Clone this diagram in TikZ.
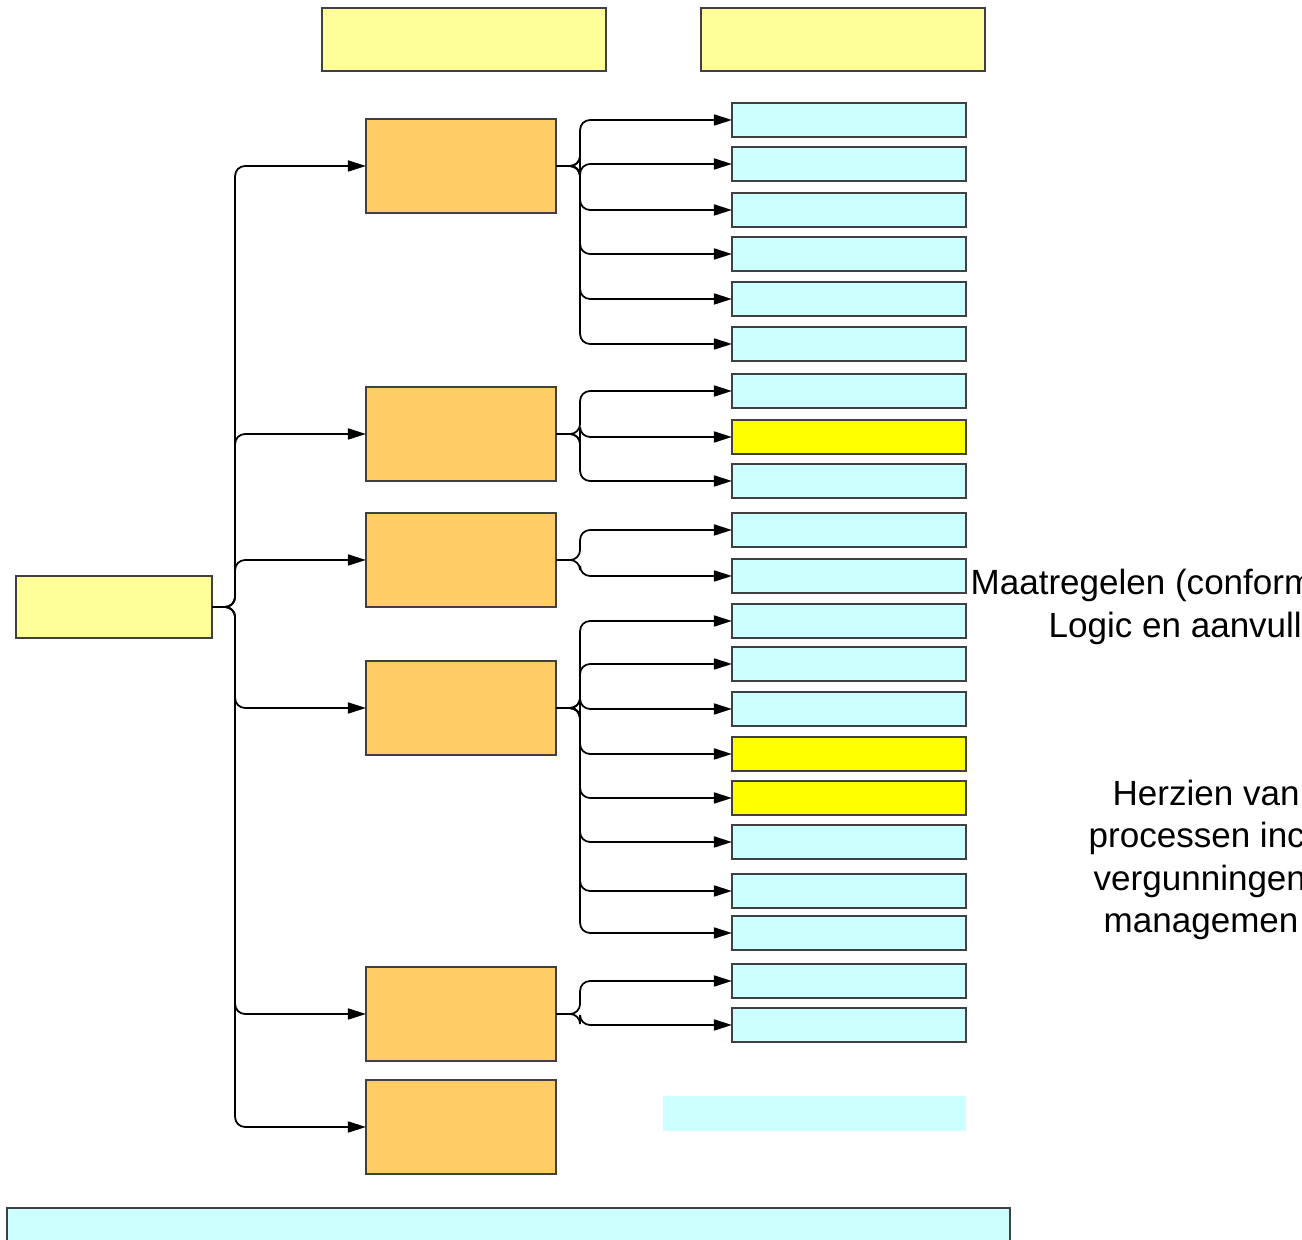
\documentclass[tikz,border=0pt]{standalone}
\usepackage{fontspec}
\setmainfont{Liberation Sans}
\usepackage{xcolor}
\usetikzlibrary{arrows.meta}

\definecolor{lichtgeel}{HTML}{FFFF99}
\definecolor{oranje}{HTML}{FFCC66}
\definecolor{lichtblauw}{HTML}{CCFFFF}
\definecolor{geel}{HTML}{FFFF00}

\begin{document}
\begin{tikzpicture}[x=0.01cm,y=-0.01cm,
	box/.style={draw=black!75, line width=0.5pt, inner sep=0pt, outer sep=0pt},
	kop/.style={box, fill=lichtgeel, minimum width=2.84cm, minimum height=0.63cm},
	hoofd/.style={box, fill=lichtgeel, minimum width=1.96cm, minimum height=0.62cm},
	fase/.style={box, fill=oranje, minimum width=1.90cm, minimum height=0.94cm},
	taak/.style={box, fill=lichtblauw, minimum width=2.34cm, minimum height=0.345cm},
	taakgeel/.style={taak, fill=geel},
	pijl/.style={-{Triangle[length=0.18cm,width=0.11cm]}, line width=0.5pt, rounded corners=0.1cm},
	tekst/.style={anchor=base west, inner sep=0pt, font=\fontsize{9.96}{12}\selectfont}]
		\useasboundingbox (0,0) rectangle (1302,1240);

		% kopjes
		\node[kop] (kop1) at (464,39.5) {};
		\node[kop] (kop2) at (843,39.5) {};

		\node[hoofd] (hoofd) at (114,607) {};

		% fasen
		\node[fase] (f1) at (461,166) {};
		\node[fase] (f2) at (461,434) {};
		\node[fase] (f3) at (461,560) {};
		\node[fase] (f4) at (461,708) {};
		\node[fase] (f5) at (461,1014) {};
		\node[fase] (f6) at (461,1127) {};

		% taken
		\node[taak] (t1) at (849,120) {};
		\node[taak] (t2) at (849,164) {};
		\node[taak] (t3) at (849,210) {};
		\node[taak] (t4) at (849,254) {};
		\node[taak] (t5) at (849,299) {};
		\node[taak] (t6) at (849,344) {};
		\node[taak] (t7) at (849,391) {};
		\node[taakgeel] (t8) at (849,437) {};
		\node[taak] (t9) at (849,481) {};
		\node[taak] (t10) at (849,530) {};
		\node[taak] (t11) at (849,576) {};
		\node[taak] (t12) at (849,621) {};
		\node[taak] (t13) at (849,664) {};
		\node[taak] (t14) at (849,709) {};
		\node[taakgeel] (t15) at (849,754) {};
		\node[taakgeel] (t16) at (849,798) {};
		\node[taak] (t17) at (849,842) {};
		\node[taak] (t18) at (849,891) {};
		\node[taak] (t19) at (849,933) {};
		\node[taak] (t20) at (849,981) {};
		\node[taak] (t21) at (849,1025) {};

		\node[fill=lichtblauw, inner sep=0pt, minimum width=3.03cm, minimum height=0.35cm] (vlak) at (814.5,1113.5) {};
		\node[taak, minimum width=10.03cm, minimum height=0.6cm] (balk) at (508.5,1238) {};

		% verbindingen
		\draw[pijl] (hoofd.east) -- ++(23,0) |- (f1.west);
		\draw[pijl] (hoofd.east) -- ++(23,0) |- (f2.west);
		\draw[pijl] (hoofd.east) -- ++(23,0) |- (f3.west);
		\draw[pijl] (hoofd.east) -- ++(23,0) |- (f4.west);
		\draw[pijl] (hoofd.east) -- ++(23,0) |- (f5.west);
		\draw[pijl] (hoofd.east) -- ++(23,0) |- (f6.west);

		\draw[pijl] (f1.east) -- ++(24,0) |- (t1.west);
		\draw[pijl] (f1.east) -- ++(24,0) |- (t2.west);
		\draw[pijl] (f1.east) -- ++(24,0) |- (t3.west);
		\draw[pijl] (f1.east) -- ++(24,0) |- (t4.west);
		\draw[pijl] (f1.east) -- ++(24,0) |- (t5.west);
		\draw[pijl] (f1.east) -- ++(24,0) |- (t6.west);

		\draw[pijl] (f2.east) -- ++(24,0) |- (t7.west);
		\draw[pijl] (f2.east) -- ++(24,0) |- (t8.west);
		\draw[pijl] (f2.east) -- ++(24,0) |- (t9.west);

		\draw[pijl] (f3.east) -- ++(24,0) |- (t10.west);
		\draw[pijl] (f3.east) -- ++(24,0) |- (t11.west);

		\draw[pijl] (f4.east) -- ++(24,0) |- (t12.west);
		\draw[pijl] (f4.east) -- ++(24,0) |- (t13.west);
		\draw[pijl] (f4.east) -- ++(24,0) |- (t14.west);
		\draw[pijl] (f4.east) -- ++(24,0) |- (t15.west);
		\draw[pijl] (f4.east) -- ++(24,0) |- (t16.west);
		\draw[pijl] (f4.east) -- ++(24,0) |- (t17.west);
		\draw[pijl] (f4.east) -- ++(24,0) |- (t18.west);
		\draw[pijl] (f4.east) -- ++(24,0) |- (t19.west);

		\draw[pijl] (f5.east) -- ++(24,0) |- (t20.west);
		\draw[pijl] (f5.east) -- ++(24,0) |- (t21.west);

		% tekst rechts
		\node[tekst] (maat1) at (970,595) {Maatregelen (conform};
		\node[tekst] (maat2) at (1048,638) {Logic en aanvull};
		\node[tekst] (herz1) at (1112,806) {Herzien van};
		\node[tekst] (herz2) at (1088,848) {processen inc};
		\node[tekst] (herz3) at (1093,891) {vergunningen};
		\node[tekst] (herz4) at (1103,933) {managemen};
	\end{tikzpicture}
\end{document}
